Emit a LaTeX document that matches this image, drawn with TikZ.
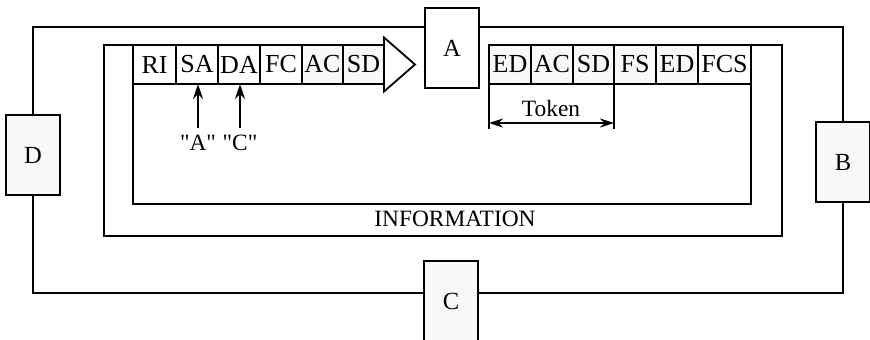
\documentclass[tikz,border=0pt]{standalone}
\usepackage{fontspec}
\setmainfont{Liberation Serif}
\usetikzlibrary{arrows.meta, calc, positioning}
\definecolor{boxgray}{RGB}{248,248,248}
\tikzset{
  station/.style={draw, fill=boxgray, minimum width=27pt, minimum height=40pt, inner sep=0pt,
    outer sep=0pt, font=\fontsize{12.3}{14}\selectfont},
  cell/.style={draw, minimum height=19.5pt, inner sep=0pt, outer sep=0pt,
    font=\fontsize{13}{15}\selectfont},
  tip/.style={-{Stealth[length=7.5pt, width=5pt]}, line width=1.1pt},
}
\begin{document}
\begin{tikzpicture}[x=0.5pt, y=-0.5pt, line width=0.9pt, every node/.style={font=\fontsize{11.7}{14}\selectfont}]
\useasboundingbox (0,0) rectangle (870,339);
% Estaciones
\node[station, fill=white] (A) at (452,48) {A};
\node[station] (B) at (843,162) {B};
\node[station] (C) at (451,301) {C};
\node[station] (D) at (33,155) {D};
% Anillo exterior
\coordinate (o1) at (33,27);
\coordinate (o2) at (843,27);
\coordinate (o3) at (843,293);
\coordinate (o4) at (33,293);
\draw (A.east |- o1) -- (o2) -- (B.north);
\draw (B.south) -- (o3) -- (C.east |- o3);
\draw (C.west |- o3) -- (o4) -- (D.south);
\draw (D.north) -- (o1) -- (A.west |- o1);
% Trama izquierda
\foreach \n/\t/\xa/\xb/\f in {l1/RI/133/176/white, l2/SA/176/218/white, l3/DA/218/260/white,
  l4/FC/260/302/white, l5/AC/302/343/boxgray, l6/SD/343/384/boxgray} {
    \pgfmathsetmacro{\xm}{(\xa+\xb)/2}
    \pgfmathsetmacro{\w}{(\xb-\xa)*0.5}
    \node[cell, fill=\f, minimum width=\w pt] (\n) at (\xm,64.5) {\t};
}
\draw[fill=white] ($(l6.east)+(0,-27)$) -- ++(31,27) -- ++(-31,27) -- cycle;
% Trama derecha
\foreach \n/\t/\xa/\xb/\f in {r1/ED/489/531/boxgray, r2/AC/531/573/boxgray, r3/SD/573/614/boxgray,
  r4/FS/614/656/boxgray, r5/ED/656/698/boxgray, r6/FCS/698/751/white} {
    \pgfmathsetmacro{\xm}{(\xa+\xb)/2}
    \pgfmathsetmacro{\w}{(\xb-\xa)*0.5}
    \node[cell, fill=\f, minimum width=\w pt] (\n) at (\xm,64.5) {\t};
}
% Anillos interiores
\coordinate (mSW) at (104,236);
\coordinate (mSE) at (782,236);
\coordinate (iSE) at (751,204);
\draw (l1.north west) -| (mSW) -- (mSE) |- (r6.north east);
\draw (l1.south west) |- (iSE) -- (r6.south east);
\node (info) at (455,219) {INFORMATION};
% Direcciones
\node (qa) at (198,143) {\textquotedbl A\textquotedbl};
\node (qc) at (240,143) {\textquotedbl C\textquotedbl};
\draw[tip] (qa.north) -- (qa.north |- l2.south);
\draw[tip] (qc.north) -- (qc.north |- l3.south);
% Token
\coordinate (tk1) at ($(r1.south west)+(0,39)$);
\coordinate (tk2) at ($(r3.south east)+(0,39)$);
\draw (r1.south west) -- ++(0,45);
\draw (r3.south east) -- ++(0,45);
\draw[{Stealth[length=7pt, width=4.5pt]}-{Stealth[length=7pt, width=4.5pt]}] (tk1) -- (tk2);
\node (token) at (551,108) {Token};
\end{tikzpicture}
\end{document}
